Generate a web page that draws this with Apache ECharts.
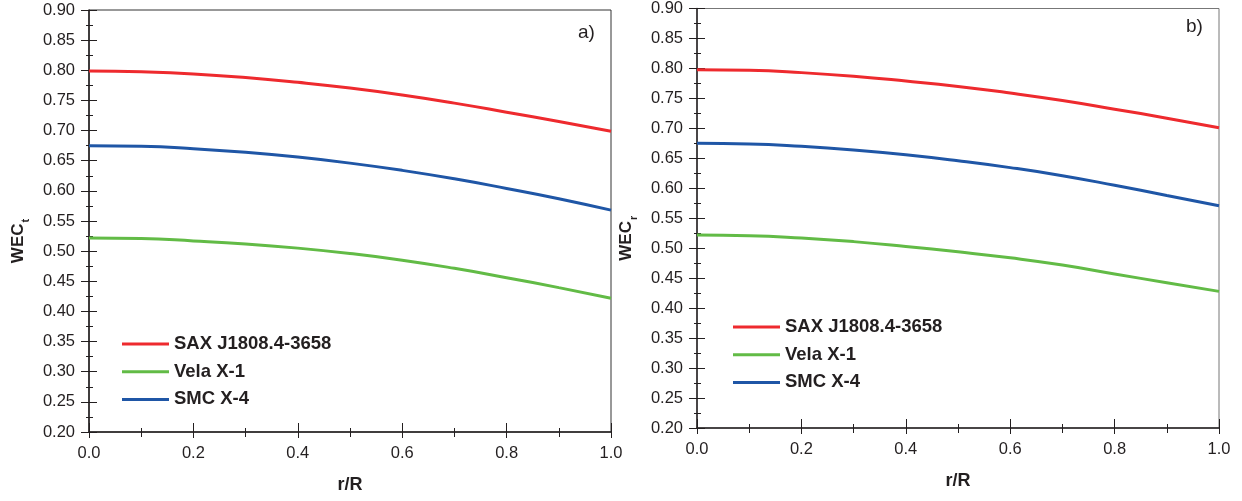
<!DOCTYPE html>
<html>
<head>
<meta charset="utf-8">
<script src="https://cdn.jsdelivr.net/npm/echarts@6/dist/echarts.min.js"></script>
<style>
html,body{margin:0;padding:0;background:#fff;}
#c{width:1242px;height:501px;}
</style>
</head>
<body>
<div id="c"></div>
<script>
// ---- data ----
var seriesNames = ['SAX J1808.4-3658', 'Vela X-1', 'SMC X-4'];
var rValues = [0, 0.1, 0.2, 0.3, 0.4, 0.5, 0.6, 0.7, 0.8, 0.9, 1.0];
// panel a) WEC_t
var saxA  = [0.799, 0.7975, 0.794, 0.788, 0.780, 0.7705, 0.759, 0.7455, 0.7305, 0.715, 0.699];
var velaA = [0.522, 0.521, 0.517, 0.512, 0.505, 0.496, 0.485, 0.4715, 0.456, 0.4395, 0.422];
var smcA  = [0.675, 0.674, 0.670, 0.664, 0.656, 0.646, 0.634, 0.620, 0.604, 0.587, 0.568];
// panel b) WEC_r
var saxB  = [0.798, 0.797, 0.793, 0.787, 0.779, 0.770, 0.759, 0.7465, 0.732, 0.717, 0.701];
var velaB = [0.522, 0.521, 0.517, 0.511, 0.503, 0.494, 0.484, 0.472, 0.457, 0.4425, 0.428];
var smcB  = [0.675, 0.674, 0.670, 0.664, 0.656, 0.646, 0.6345, 0.621, 0.605, 0.588, 0.571];
var panelLabels = ['a)', 'b)'];
var xAxisTitle = 'r/R';
var yAxisTitles = [['WEC', 't'], ['WEC', 'r']];

var colors = ['#ee2a2e', '#62bb46', '#1f56a6'];
var txt = '#231f20';
var font = 'Liberation Sans, Arial, sans-serif';

function pairs(vals) { return rValues.map(function (r, i) { return [r, vals[i]]; }); }

var grids = [
  {left: 89, right: 631, top: 10, bottom: 69, show: true, borderColor: '#333', borderWidth: 1},
  {left: 697, right: 23, top: 7, bottom: 73, show: true, borderColor: '#777', borderWidth: 1}
];

var xAxes = [], yAxes = [];
for (var g = 0; g < 2; g++) {
  xAxes.push({
    type: 'value', gridIndex: g, min: 0, max: 1, interval: 0.2, position: 'bottom',
    name: xAxisTitle, nameLocation: 'middle', nameGap: 44,
    nameTextStyle: {fontFamily: font, fontSize: 18, fontWeight: 'bold', color: txt},
    axisLine: {show: true, onZero: false, lineStyle: {color: txt, width: 1.5}},
    axisTick: {show: true, inside: false, length: 6, lineStyle: {color: txt, width: 1}},
    minorTick: {show: true, splitNumber: 2, length: 5, lineStyle: {color: txt, width: 1}},
    axisLabel: {fontFamily: font, fontSize: 16.5, color: txt, margin: 13,
      formatter: function (v) { return v.toFixed(1); }},
    splitLine: {show: false}
  });
  xAxes.push({
    type: 'value', gridIndex: g, min: 0, max: 1, interval: 0.2, position: 'bottom',
    axisLine: {show: false, onZero: false},
    axisTick: {show: true, inside: true, length: 9, lineStyle: {color: txt, width: 1}},
    minorTick: {show: true, splitNumber: 2, length: 4, lineStyle: {color: txt, width: 1}},
    axisLabel: {show: false}, splitLine: {show: false}
  });
  yAxes.push({
    type: 'value', gridIndex: g, min: 0.2, max: 0.9, interval: 0.05, position: 'left',
    name: '{a|' + yAxisTitles[g][0] + '}{s|' + yAxisTitles[g][1] + '}',
    nameLocation: 'middle', nameGap: 62, nameRotate: 90,
    nameTextStyle: {
      padding: [0, 40, 0, 0],
      rich: {
        a: {fontFamily: font, fontSize: 17, fontWeight: 'bold', color: txt, lineHeight: 24, verticalAlign: 'bottom'},
        s: {fontFamily: font, fontSize: 11, fontWeight: 'bold', color: txt, lineHeight: 24, verticalAlign: 'bottom', padding: [0, 0, -4, 1]}
      }
    },
    axisLine: {show: true, onZero: false, lineStyle: {color: txt, width: 1.5}},
    axisTick: {show: true, inside: false, length: 8, lineStyle: {color: txt, width: 1}},
    minorTick: {show: true, splitNumber: 2, length: 3, lineStyle: {color: txt, width: 1}},
    axisLabel: {fontFamily: font, fontSize: 16.5, color: txt, margin: 14,
      formatter: function (v) { return v.toFixed(2); }},
    splitLine: {show: false}
  });
  yAxes.push({
    type: 'value', gridIndex: g, min: 0.2, max: 0.9, interval: 0.05, position: 'left',
    axisLine: {show: false, onZero: false},
    axisTick: {show: true, inside: true, length: 8, lineStyle: {color: txt, width: 1}},
    minorTick: {show: true, splitNumber: 2, length: 4, lineStyle: {color: txt, width: 1}},
    axisLabel: {show: false}, splitLine: {show: false}
  });
}

var panelData = [[saxA, velaA, smcA], [saxB, velaB, smcB]];
var series = [];
for (var p = 0; p < 2; p++) {
  for (var k = 0; k < 3; k++) {
    series.push({
      type: 'line', name: seriesNames[k],
      xAxisIndex: p * 2, yAxisIndex: p * 2,
      data: pairs(panelData[p][k]),
      smooth: 0.5, showSymbol: false, symbol: 'none',
      lineStyle: {color: colors[k], width: 3},
      itemStyle: {color: colors[k]},
      emphasis: {disabled: true}, z: 3
    });
  }
}

var legendBase = {
  orient: 'vertical', icon: 'rect', itemWidth: 47, itemHeight: 3, itemGap: 5.7,
  padding: 0, data: seriesNames, selectedMode: false,
  textStyle: {fontFamily: font, fontSize: 18.5, fontWeight: 'bold', color: txt, lineHeight: 20, padding: [2, 0, 0, 0]}
};
var legends = [
  Object.assign({}, legendBase, {left: 122, top: 333}),
  Object.assign({}, legendBase, {left: 733, top: 316})
];

var option = {
  animation: false,
  backgroundColor: '#fff',
  grid: grids,
  xAxis: xAxes,
  yAxis: yAxes,
  legend: legends,
  series: series,
  graphic: [
    {type: 'text', left: 578, top: 23, style: {text: panelLabels[0], fontFamily: font, fontSize: 19, fill: txt}},
    {type: 'text', left: 1186, top: 17, style: {text: panelLabels[1], fontFamily: font, fontSize: 19, fill: txt}}
  ]
};
var chart = echarts.init(document.getElementById('c'), null, {renderer: 'canvas'});
chart.setOption(option);
</script>
</body>
</html>
